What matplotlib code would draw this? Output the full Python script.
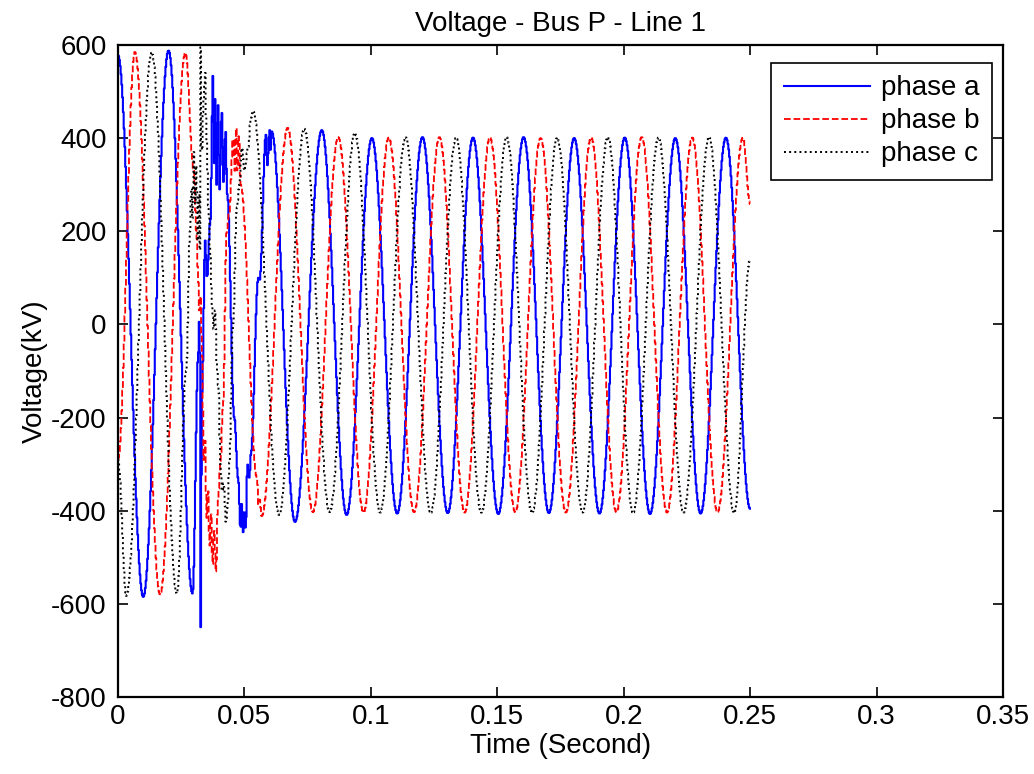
import numpy as np
import matplotlib
matplotlib.use("Agg")
import matplotlib.pyplot as plt

plt.rcParams['font.family'] = ['Liberation Sans', 'DejaVu Sans']
plt.rcParams['axes.unicode_minus'] = False

# key points (time s, kV): peaks, troughs and fault jitter
phase_a_t = [0.0, 0.01, 0.02, 0.0295, 0.0318, 0.0323, 0.0327, 0.0332, 0.0345, 0.0352,
             0.0365, 0.0376, 0.0380, 0.0385, 0.0390, 0.0395, 0.0402, 0.0410, 0.0418,
             0.0425, 0.0432, 0.0460, 0.0475, 0.0485, 0.0490, 0.0495, 0.0500, 0.0505,
             0.0512, 0.0520, 0.0525, 0.0555, 0.0560, 0.0585, 0.0590, 0.0600, 0.0603,
             0.0607, 0.0700, 0.0806, 0.0904,
             0.1004, 0.1104, 0.1204, 0.1304, 0.1404, 0.1504, 0.1604, 0.1704, 0.1804,
             0.1904, 0.2004, 0.2104, 0.2204, 0.2304, 0.2404, 0.25]
phase_a_v = [578, -585, 588, -578, -60, 40, -650, -150, 180, 100,
             220, 540, 330, 500, 300, 480, 290, 460, 300,
             420, 280, -200, -330, -440, -380, -446, -400, -440,
             -300, -330, -280, 100, 95, 407, 340, 417, 375,
             415, -424, 417, -409,
             400, -406, 402, -405, 401, -407, 402, -405, 400,
             -406, 401, -407, 400, -406, 401, -396]

phase_b_t = [0.0, 0.00667, 0.01667, 0.02667, 0.0300, 0.0310, 0.0318, 0.0322, 0.0327,
             0.0332, 0.0340, 0.0345, 0.0350, 0.0356, 0.0362, 0.0368, 0.0374, 0.0380,
             0.0388, 0.0395, 0.0405, 0.0415, 0.0430, 0.0440, 0.0455, 0.0462, 0.0467,
             0.0472, 0.0478, 0.0485, 0.0550, 0.0556, 0.0560, 0.0568,
             0.0671, 0.0771, 0.0871, 0.0971, 0.1071, 0.1171, 0.1271, 0.1371, 0.1471,
             0.1571, 0.1671, 0.1771, 0.1871, 0.1971, 0.2071, 0.2171, 0.2271, 0.2371,
             0.2471, 0.25]
phase_b_v = [-290, 585, -580, 583, 330, 200, 90, 20, 60,
             -60, -300, -250, -420, -350, -480, -400, -520, -440,
             -534, -380, -300, -180, 200, 240, 400, 330, 432,
             320, 410, 300, -330, -390, -375, -412,
             422, -403, 402, -404, 401, -403, 402, -404, 401,
             -403, 400, -404, 401, -403, 402, -404, 401, -403,
             401, 258]

phase_c_t = [0.0, 0.00333, 0.01333, 0.02333, 0.0270, 0.0285, 0.0290, 0.0295, 0.0300,
             0.0305, 0.0310, 0.0315, 0.0320, 0.0324, 0.0327, 0.0331, 0.0338, 0.0345,
             0.0350, 0.0358, 0.0365, 0.0372, 0.0378, 0.0384, 0.0392, 0.0398, 0.0405,
             0.0412, 0.0418, 0.0427, 0.0435, 0.0440, 0.0455, 0.0470, 0.0480, 0.0490,
             0.0500, 0.0515, 0.0525, 0.0534,
             0.0637, 0.0737, 0.0837, 0.0937, 0.1037, 0.1137, 0.1237, 0.1337, 0.1437,
             0.1537, 0.1637, 0.1737, 0.1837, 0.1937, 0.2037, 0.2137, 0.2237, 0.2337,
             0.2437, 0.25]
phase_c_v = [-290, -583, 585, -578, -100, 200, 300, 220, 370,
             250, 350, 180, 300, 160, 595, 350, 480, 540,
             400, 250, 150, 40, -10, 30, -100, -140, -300,
             -360, -340, -426, -380, -300, 0, 250, 300, 380,
             330, 380, 440, 458,
             -409, 420, -403, 411, -404, 402, -405, 401, -404,
             402, -405, 401, -404, 402, -405, 401, -404, 402,
             -405, 140]

phases = [("phase a", phase_a_t, phase_a_v, "#0000ff", "-", 1.5),
          ("phase b", phase_b_t, phase_b_v, "#ff0000", "--", 1.3),
          ("phase c", phase_c_t, phase_c_v, "#000000", ":", 1.4)]


def smooth_join(kt, kv, t):
    # half-cosine joins between the read key points
    kt = np.asarray(kt)
    kv = np.asarray(kv, dtype=float)
    i = np.clip(np.searchsorted(kt, t, side='right') - 1, 0, len(kt) - 2)
    s = (t - kt[i]) / (kt[i + 1] - kt[i])
    return kv[i] + (kv[i + 1] - kv[i]) * (1 - np.cos(np.pi * s)) / 2


t = np.arange(0, 0.25 + 1e-9, 0.0003)

fig = plt.figure(figsize=(10.34, 7.74), dpi=100)
ax = fig.add_axes([0.1141, 0.0995, 0.856, 0.8424])

for name, kt, kv, col, ls, lw in phases:
    ax.plot(t, smooth_join(kt, kv, t), color=col, linestyle=ls, linewidth=lw,
            label=name, drawstyle='steps-mid')

ax.set_xlim(0, 0.35)
ax.set_ylim(-800, 600)
ax.set_xticks([0, 0.05, 0.1, 0.15, 0.2, 0.25, 0.3, 0.35])
ax.set_xticklabels(["0", "0.05", "0.1", "0.15", "0.2", "0.25", "0.3", "0.35"])
ax.set_yticks(range(-800, 601, 200))
ax.tick_params(direction='in', top=True, right=True, length=7, width=1.2,
               labelsize=20)
ax.tick_params(axis='x', pad=5)
ax.tick_params(axis='y', pad=8)
for sp in ax.spines.values():
    sp.set_linewidth(1.6)

ax.set_title("Voltage - Bus P - Line 1", fontsize=20, pad=10)
ax.set_xlabel("Time (Second)", fontsize=20, labelpad=2)
ax.set_ylabel("Voltage(kV)", fontsize=20, labelpad=2)

leg = ax.legend(loc='upper right', bbox_to_anchor=(0.9876, 0.9724), borderaxespad=0,
                fontsize=20, fancybox=False, framealpha=1, edgecolor='black',
                handlelength=3.1, handletextpad=0.4, labelspacing=0.25,
                borderpad=0.45)
leg.get_frame().set_linewidth(1.2)

fig.savefig("out.png", dpi=100)
